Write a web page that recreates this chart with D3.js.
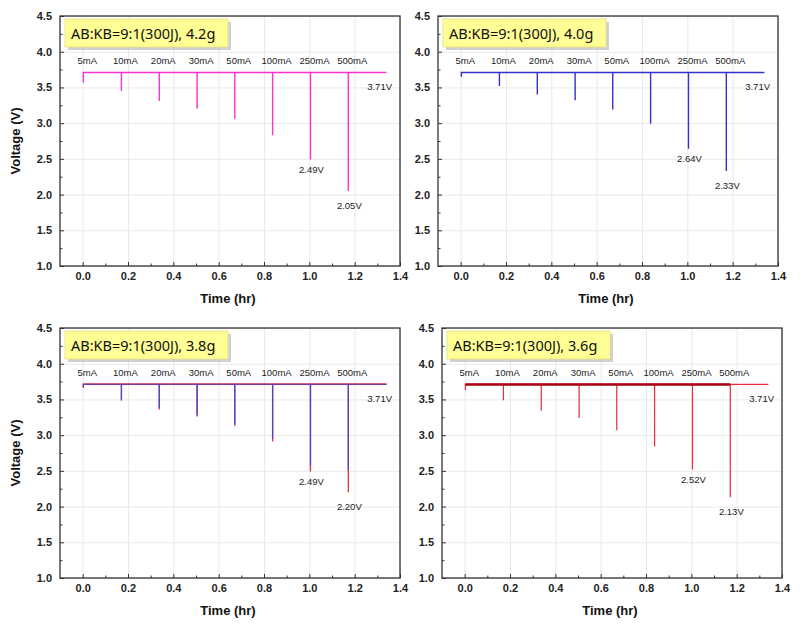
<!DOCTYPE html>
<html>
<head>
<meta charset="utf-8">
<script src="https://cdn.jsdelivr.net/npm/d3@7"></script>
<style>
body{margin:0;background:#fff;}
svg{display:block;}
.tick text{font-family:"Liberation Sans",Arial,sans-serif;font-weight:bold;font-size:11px;fill:#222;}
</style>
</head>
<body>
<svg id="c" width="804" height="632"></svg>
<script>
// ---- data ----
const currents = ["5mA","10mA","20mA","30mA","50mA","100mA","250mA","500mA"];
const pulseTimes = [0.003, 0.171, 0.338, 0.505, 0.671, 0.838, 1.005, 1.172];
const restV = 3.71;
const endTime = 1.34;
const xTicks = [0.0, 0.2, 0.4, 0.6, 0.8, 1.0, 1.2, 1.4];
const yTicks = [1.0, 1.5, 2.0, 2.5, 3.0, 3.5, 4.0, 4.5];
const titles = ["AB:KB=9:1(300J), 4.2g","AB:KB=9:1(300J), 4.0g","AB:KB=9:1(300J), 3.8g","AB:KB=9:1(300J), 3.6g"];
const min42 = [3.57, 3.45, 3.31, 3.20, 3.06, 2.83, 2.49, 2.05];
const min40 = [3.65, 3.52, 3.40, 3.32, 3.19, 2.99, 2.64, 2.33];
const min38Red = [3.66, 3.48, 3.36, 3.26, 3.13, 2.91, 2.49, 2.20];
const min38Blue = [3.67, 3.50, 3.38, 3.28, 3.15, 2.95, 2.58, 2.51];
const min36 = [3.63, 3.49, 3.34, 3.24, 3.07, 2.84, 2.52, 2.13];

const svg = d3.select("#c");
const W = 340, H = 250;
const panels = [
  {left:60, top:16, title:titles[0], ylabel:true, series:[{mins:min42,color:"#ff33cc",w:1.4}], labelMins:min42},
  {left:438, top:16, title:titles[1], ylabel:false, series:[{mins:min40,color:"#3232d2",w:1.4}], labelMins:min40},
  {left:60, top:328, title:titles[2], ylabel:true, series:[{mins:min38Red,color:"#e0303c",w:1.3},{mins:min38Blue,color:"#4646d8",w:1.3}], redOver:true, labelMins:min38Red},
  {left:442, top:328, title:titles[3], ylabel:false, series:[{mins:min36,color:"#ee2a40",w:1.2}], darkLine:true, labelMins:min36}
];

function tracePoints(mins){
  const pts = [];
  pulseTimes.forEach((t,i)=>{ pts.push([t,restV]); pts.push([t,mins[i]]); pts.push([t,restV]); });
  pts.push([endTime,restV]);
  return pts;
}

panels.forEach(p=>{
  const g = svg.append("g").attr("transform",`translate(${p.left},${p.top})`);
  const x = d3.scaleLinear().domain([-0.1,1.4]).range([0,W]);
  const y = d3.scaleLinear().domain([1.0,4.5]).range([H,0]);

  // grid
  g.append("g").attr("transform",`translate(0,${H})`)
    .call(d3.axisBottom(x).tickValues(xTicks).tickSize(-H).tickFormat(""))
    .call(s=>{s.select(".domain").remove(); s.selectAll("line").attr("stroke","#e9e9e9");});
  g.append("g")
    .call(d3.axisLeft(y).tickValues(yTicks).tickSize(-W).tickFormat(""))
    .call(s=>{s.select(".domain").remove(); s.selectAll("line").attr("stroke","#e9e9e9");});

  const line = d3.line().x(d=>x(d[0])).y(d=>y(d[1]));

  p.series.forEach(s=>{
    g.append("path").attr("d",line(tracePoints(s.mins))).attr("fill","none")
      .attr("stroke",s.color).attr("stroke-width",s.w);
  });
  if(p.darkLine){
    g.append("path").attr("d",line([[pulseTimes[0],restV],[pulseTimes[7],restV]]))
      .attr("fill","none").attr("stroke","#a8000e").attr("stroke-width",2.6);
  }
  if(p.redOver){
    g.append("path").attr("d",line([[pulseTimes[0],restV],[endTime,restV]]))
      .attr("fill","none").attr("stroke","#d8203a").attr("stroke-width",1.4).attr("opacity",0.75)
      .attr("transform","translate(0,-0.6)");
  }

  // current labels
  g.selectAll(".cur").data(currents).enter().append("text")
    .attr("x",(d,i)=>x(pulseTimes[i])+4).attr("y",y(3.87))
    .attr("text-anchor","middle").attr("dominant-baseline","middle")
    .attr("font-family","Liberation Sans, Arial, sans-serif").attr("font-size","9.5px").attr("fill","#222")
    .text(d=>d);

  g.append("text").attr("x",x(1.31)).attr("y",y(3.50))
    .attr("text-anchor","middle").attr("dominant-baseline","middle")
    .attr("font-family","Liberation Sans, Arial, sans-serif").attr("font-size","9.5px").attr("fill","#222")
    .text(restV.toFixed(2)+"V");

  [6,7].forEach(i=>{
    const v = p.labelMins[i];
    g.append("text").attr("x",x(pulseTimes[i])+1).attr("y",y(v)+(i===7?15:11))
      .attr("text-anchor","middle").attr("dominant-baseline","middle")
      .attr("font-family","Liberation Sans, Arial, sans-serif").attr("font-size","9.5px").attr("fill","#222")
      .text(v.toFixed(2)+"V");
  });

  // axes (inward ticks)
  const xa = g.append("g").attr("transform",`translate(0,${H})`)
    .call(d3.axisBottom(x).tickValues(xTicks).tickSize(-4).tickPadding(6).tickFormat(d3.format(".1f")));
  xa.select(".domain").remove(); xa.selectAll("line").attr("stroke","#333");
  const xm = g.append("g").attr("transform",`translate(0,${H})`)
    .call(d3.axisBottom(x).tickValues(d3.range(0.1,1.4,0.2)).tickSize(-2.5).tickFormat(""));
  xm.select(".domain").remove(); xm.selectAll("line").attr("stroke","#333");

  const ya = g.append("g")
    .call(d3.axisLeft(y).tickValues(yTicks).tickSize(-4).tickPadding(8).tickFormat(d3.format(".1f")));
  ya.select(".domain").remove(); ya.selectAll("line").attr("stroke","#333");
  const ym = g.append("g")
    .call(d3.axisLeft(y).tickValues(d3.range(1.25,4.5,0.5)).tickSize(-2.5).tickFormat(""));
  ym.select(".domain").remove(); ym.selectAll("line").attr("stroke","#333");

  // frame
  g.append("rect").attr("width",W).attr("height",H).attr("fill","none").attr("stroke","#333").attr("stroke-width",1.3);

  // titles
  g.append("text").attr("x",W/2-2).attr("y",H+37)
    .attr("text-anchor","middle").attr("font-family","Liberation Sans, Arial, sans-serif")
    .attr("font-weight","bold").attr("font-size","13px").attr("fill","#111").text("Time (hr)");
  if(p.ylabel){
    g.append("text").attr("transform",`translate(-40,${H/2}) rotate(-90)`)
      .attr("text-anchor","middle").attr("font-family","Liberation Sans, Arial, sans-serif")
      .attr("font-weight","bold").attr("font-size","13px").attr("fill","#111").text("Voltage (V)");
  }

  // label box
  const bx = 5, by = 3, bw = 163, bh = 28;
  g.append("rect").attr("x",bx+3).attr("y",by+3).attr("width",bw).attr("height",bh).attr("fill","#bdbdbd").attr("opacity",0.7);
  g.append("rect").attr("x",bx).attr("y",by).attr("width",bw).attr("height",bh).attr("fill","#ffff96").attr("stroke","#e4e47c").attr("stroke-width",0.8);
  g.append("text").attr("x",bx+6).attr("y",by+20)
    .attr("font-family","Noto Sans, sans-serif").attr("font-size","14.5px").attr("fill","#111")
    .text(p.title);
});
</script>
</body>
</html>
